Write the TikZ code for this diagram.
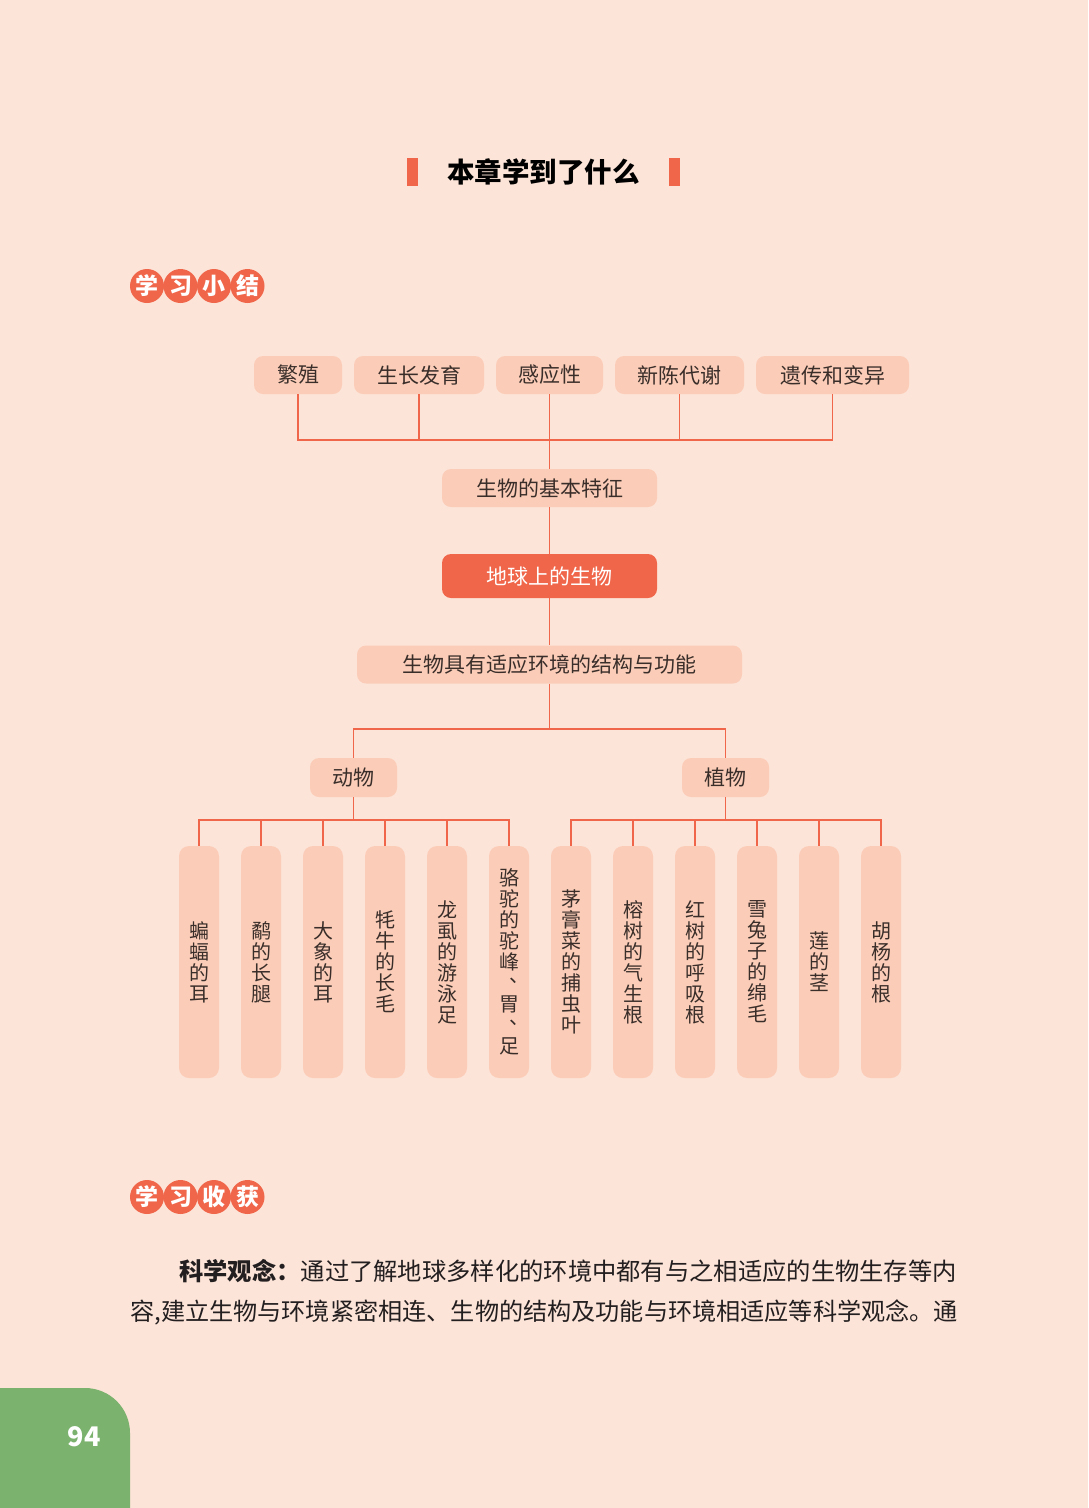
\documentclass[tikz,border=0pt]{standalone}
\usepackage{fontspec}
\setmainfont{Noto Sans CJK SC}
\definecolor{bg}{HTML}{FDE4D8}
\definecolor{boxc}{HTML}{FBCDB8}
\definecolor{org}{HTML}{F0664A}
\definecolor{pgreen}{HTML}{7BB26E}
\definecolor{txt}{HTML}{3A2E2A}
\definecolor{para}{HTML}{231F20}
\newcommand\vdun{\makebox[1em][l]{\hspace{0.5em}\raisebox{0.4em}{、}}}
\tikzset{
 conn/.style={draw=org, line width=1.9pt},
 hbox/.style={rectangle, rounded corners=9pt, fill=boxc, text=txt, inner sep=0pt, minimum height=38pt, font=\fontsize{21}{24}\selectfont},
 mainbox/.style={hbox, fill=org, text=white, minimum height=44pt},
 vbox/.style={rectangle, rounded corners=10pt, fill=boxc, text=txt, inner sep=0pt, minimum width=40pt, minimum height=232pt, align=center, font=\fontsize{20}{21}\selectfont},
 badge/.style={circle, fill=org, text=white, inner sep=0pt, minimum size=34pt, font=\bfseries\fontsize{23}{23}\selectfont},
 paraline/.style={anchor=west, inner sep=0pt, text=para, font=\fontsize{24.3}{28}\selectfont},
}
\begin{document}
\begin{tikzpicture}[x=1pt,y=-1pt]
\useasboundingbox (0,0) rectangle (1088,1508);
\fill[bg] (0,0) rectangle (1088,1508);

% title
\fill[org] (407,158) rectangle (418,186);
\fill[org] (669,158) rectangle (680,186);
\node[inner sep=0pt, font=\bfseries\fontsize{27.5}{30}\selectfont, text=black] (title) at (543.5,172) {本章学到了什么};

% badge 1
\foreach \c [count=\i] in {学,习,小,结}{
  \node[badge] (ba\i) at (113.5+33.5*\i,286) {\c};
}

% top row
\node[hbox, minimum width=88pt]  (fz) at (298,375) {繁殖};
\node[hbox, minimum width=130pt] (sz) at (419,375) {生长发育};
\node[hbox, minimum width=107pt] (gy) at (549.5,375) {感应性};
\node[hbox, minimum width=129pt] (xc) at (679.5,375) {新陈代谢};
\node[hbox, minimum width=153pt] (yc) at (832.5,375) {遗传和变异};
\coordinate (bus1) at (549.5,440);

\node[hbox, minimum width=215pt] (jb) at (549.5,488) {生物的基本特征};
\node[mainbox, minimum width=215pt] (dq) at (549.5,576) {地球上的生物};
\node[hbox, minimum width=385pt] (sy) at (549.5,664.5) {生物具有适应环境的结构与功能};
\coordinate (bus2) at (549.5,729);

\node[hbox, minimum width=87pt, minimum height=39pt] (dw) at (353.5,777.5) {动物};
\node[hbox, minimum width=87pt, minimum height=39pt] (zw) at (725.5,777.5) {植物};
\coordinate (bus3) at (353.5,820);
\coordinate (bus4) at (725.5,820);

% vertical boxes
\node[vbox] (a1) at (199,962) {蝙\\蝠\\的\\耳};
\node[vbox] (a2) at (261,962) {鹬\\的\\长\\腿};
\node[vbox] (a3) at (323,962) {大\\象\\的\\耳};
\node[vbox] (a4) at (385,962) {牦\\牛\\的\\长\\毛};
\node[vbox] (a5) at (447,962) {龙\\虱\\的\\游\\泳\\足};
\node[vbox] (a6) at (509,962) {骆\\驼\\的\\驼\\峰\\\vdun\\胃\\\vdun\\足};
\node[vbox] (p1) at (571,962) {茅\\膏\\菜\\的\\捕\\虫\\叶};
\node[vbox] (p2) at (633,962) {榕\\树\\的\\气\\生\\根};
\node[vbox] (p3) at (695,962) {红\\树\\的\\呼\\吸\\根};
\node[vbox] (p4) at (757,962) {雪\\兔\\子\\的\\绵\\毛};
\node[vbox] (p5) at (819,962) {莲\\的\\茎};
\node[vbox] (p6) at (881,962) {胡\\杨\\的\\根};

% connectors
\foreach \n in {fz,sz,gy,xc,yc}{ \draw[conn] (\n.south) |- (bus1); }
\draw[conn] (bus1) -- (jb.north);
\draw[conn] (jb.south) -- (dq.north);
\draw[conn] (dq.south) -- (sy.north);
\draw[conn] (sy.south) -- (bus2);
\draw[conn] (dw.north) |- (bus2);
\draw[conn] (zw.north) |- (bus2);
\draw[conn] (dw.south) -- (bus3);
\draw[conn] (zw.south) -- (bus4);
\foreach \n in {a1,a2,a3,a4,a5,a6}{ \draw[conn] (\n.north) |- (bus3); }
\foreach \n in {p1,p2,p3,p4,p5,p6}{ \draw[conn] (\n.north) |- (bus4); }

% badge 2
\foreach \c [count=\i] in {学,习,收,获}{
  \node[badge] (bb\i) at (113.5+33.5*\i,1197) {\c};
}

% paragraph
\node[paraline] (l1) at (179,1271) {{\bfseries 科学观念：}通过了解地球多样化的环境中都有与之相适应的生物生存等内};
\node[paraline, font=\fontsize{24.15}{28}\selectfont] (l2) at (130,1312) {容,建立生物与环境紧密相连、生物的结构及功能与环境相适应等科学观念。通};

% page tab
\fill[pgreen] (0,1508) -- (0,1388) [rounded corners=45pt] -- (130,1388) [sharp corners] -- (130,1508) -- cycle;
\node[inner sep=0pt, text=white, font=\bfseries\fontsize{27}{30}\selectfont] (pg) at (84,1437) {94};
\end{tikzpicture}
\end{document}
